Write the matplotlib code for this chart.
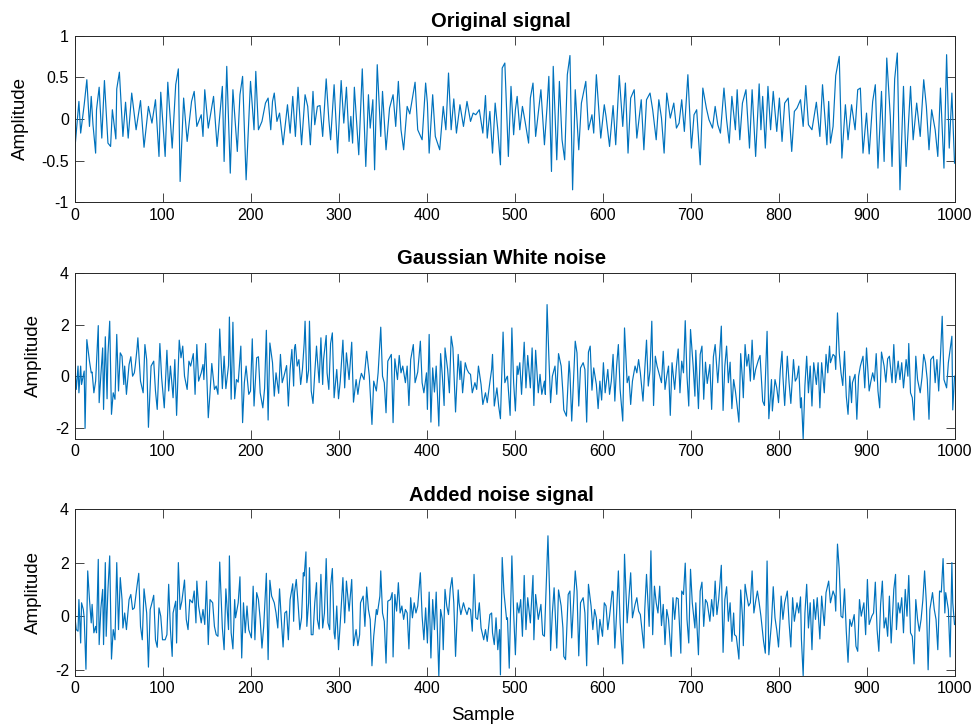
import numpy as np
import matplotlib
matplotlib.use("Agg")
import matplotlib.pyplot as plt

plt.rcParams['font.family'] = ['Liberation Sans', 'DejaVu Sans']
plt.rcParams['axes.unicode_minus'] = False

# (sample, amplitude) turning points
original = [(0,-0.41),(5,0.21),(7,-0.17),(11,0.17),(14,0.47),(17,-0.09),(19,0.27),(21,-0.07),(24,-0.41),(25,0.11),(28,0.38),(31,-0.23),(34,0.46),(38,-0.29),(41,-0.33),(43,0.11),(47,-0.24),(48,0.36),(51,0.56),(55,-0.21),(58,0.2),(61,-0.23),(65,0.31),(70,-0.13),(75,0.22),(79,-0.34),(84,0.15),(88,-0.05),(92,0.23),(96,-0.45),(98,0.32),(103,-0.45),(106,0.44),(111,-0.35),(115,0.41),(118,0.6),(120,-0.75),(124,0.25),(128,-0.27),(133,0.21),(136,0.33),(139,-0.09),(144,0.05),(146,-0.21),(148,0.35),(152,-0.11),(158,0.27),(162,-0.33),(168,0.39),(170,-0.51),(173,0.63),(177,-0.65),(180,0.35),(185,-0.39),(188,0.29),(191,0.51),(195,-0.73),(200,0.45),(204,-0.13),(206,0.57),(209,-0.13),(213,-0.03),(217,0.19),(220,0.25),(223,-0.13),(225,0.21),(227,0.31),(230,-0.03),(233,0.07),(237,-0.31),(242,0.17),(245,-0.17),(248,0.27),(251,-0.21),(254,0.38),(258,-0.31),(262,0.29),(265,0.15),(268,-0.31),(271,0.33),(273,-0.07),(276,0.15),(279,0.16),(282,-0.21),(286,0.48),(289,-0.01),(291,-0.25),(295,0.41),(299,-0.41),(303,0.46),(306,-0.05),(309,0.38),(312,-0.27),(314,0.03),(316,-0.29),(318,0.38),(323,-0.43),(327,0.6),(331,-0.57),(334,0.29),(336,-0.11),(339,0.23),(341,-0.61),(344,0.65),(348,-0.21),(350,0.33),(354,-0.37),(358,0.13),(362,0.29),(365,-0.09),(368,0.45),(371,-0.13),(374,-0.37),(378,0.15),(381,0.06),(387,0.44),(390,-0.13),(395,-0.25),(399,0.43),(401,0.19),(403,-0.41),(407,0.29),(410,-0.21),(415,-0.37),(419,0.15),(422,-0.13),(425,0.55),(428,-0.13),(431,0.24),(434,-0.17),(438,0.17),(442,-0.09),(446,0.21),(450,-0.03),(453,0.07),(456,0.05),(460,0.11),(464,-0.17),(467,0.28),(469,-0.23),(472,0.09),(475,-0.41),(478,0.19),(481,-0.13),(484,-0.55),(486,0.61),(489,0.67),(493,-0.45),(496,0.39),(499,-0.19),(501,0.11),(503,0.27),(506,-0.13),(509,0.15),(512,-0.03),(516,-0.29),(518,0.25),(521,0.43),(524,-0.21),(527,0.07),(530,0.35),(534,-0.31),(537,0.15),(539,0.51),(542,-0.63),(544,0.63),(548,-0.49),(551,0.45),(554,-0.25),(557,-0.49),(560,0.53),(563,0.76),(566,-0.85),(569,0.35),(573,-0.37),(576,0.19),(581,0.45),(584,-0.13),(588,0.05),(590,-0.17),(593,0.53),(598,-0.23),(602,0.17),(604,0.03),(608,-0.33),(612,0.16),(615,-0.31),(619,0.52),(623,-0.09),(626,0.43),(629,-0.41),(632,0.25),(636,0.35),(639,-0.23),(644,0.23),(647,-0.37),(650,0.23),(654,0.31),(657,0.11),(661,-0.25),(664,0.23),(667,0.01),(670,-0.41),(673,0.31),(677,0.01),(681,0.19),(684,-0.11),(687,-0.05),(690,0.23),(693,-0.15),(697,0.53),(701,-0.35),(704,0.05),(707,0.11),(711,-0.55),(714,0.37),(718,0.13),(721,-0.01),(725,-0.11),(728,0.15),(731,-0.07),(734,-0.17),(738,0.37),(741,-0.01),(744,-0.29),(747,0.27),(751,-0.13),(753,0.35),(756,-0.25),(759,0.19),(763,0.35),(767,-0.35),(770,0.35),(774,-0.45),(778,0.42),(780,-0.13),(782,0.27),(785,-0.35),(788,0.39),(791,-0.13),(794,0.33),(798,-0.15),(801,0.25),(804,-0.27),(807,0.19),(811,0.25),(815,-0.39),(818,0.09),(821,0.13),(825,0.23),(828,-0.09),(831,0.4),(834,-0.07),(838,-0.13),(843,0.2),(847,-0.21),(850,0.41),(855,-0.31),(857,0.21),(859,-0.29),(862,-0.09),(865,0.52),(869,0.75),(872,-0.47),(876,0.17),(879,-0.25),(883,0.17),(887,-0.13),(890,0.35),(893,0.37),(896,-0.41),(900,0.07),(903,-0.42),(907,0.21),(910,0.41),(913,-0.59),(917,0.33),(920,-0.51),(923,0.73),(927,0.03),(929,-0.57),(932,0.48),(935,0.79),(938,-0.85),(942,0.39),(945,-0.57),(950,0.39),(953,-0.25),(957,0.19),(961,-0.21),(965,0.47),(968,0.15),(971,-0.37),(974,0.11),(978,-0.13),(981,-0.45),(984,0.37),(988,-0.59),(991,0.77),(994,-0.35),(997,0.31),(1000,-0.53)]

noise = [(0,0.53),(2,-0.5),(4,0.4),(5,-0.63),(7,0.4),(8,-0.31),(11,0.21),(12,-2.0),(14,1.42),(17,0.59),(19,0.14),(20,0.17),(22,-0.63),(24,-0.18),(27,1.96),(28,-1.01),(30,0.08),(32,1.1),(33,-1.27),(35,1.53),(37,-0.86),(38,0.85),(40,2.13),(42,-1.46),(44,-0.63),(46,-0.88),(48,1.62),(50,-0.56),(52,0.91),(54,0.78),(56,-0.31),(57,0.4),(59,-0.69),(62,0.46),(64,0.76),(66,0.01),(68,0.14),(69,0.4),(71,1.06),(72,1.49),(75,-0.18),(78,-0.63),(80,1.23),(82,0.65),(84,-1.96),(87,0.4),(90,0.59),(92,-0.56),(94,-1.27),(97,1.27),(99,-0.05),(102,-1.21),(105,1.01),(107,-0.56),(109,0.4),(112,-0.82),(114,0.65),(116,-1.5),(119,1.4),(121,0.72),(123,1.17),(125,0.01),(128,-0.5),(130,0.59),(132,0.4),(135,0.88),(137,-0.69),(139,1.23),(141,-0.18),(144,0.14),(146,0.46),(147,-0.12),(149,1.27),(152,-1.59),(154,-0.63),(156,0.5),(159,-0.5),(161,-0.37),(163,-0.69),(165,1.83),(168,-0.47),(170,0.78),(172,-0.47),(175,0.42),(176,2.29),(178,-0.88),(180,2.09),(182,-0.86),(184,-0.12),(186,-0.22),(189,1.17),(191,-1.78),(193,-0.24),(195,0.4),(198,-0.69),(200,-0.56),(202,1.45),(204,-1.14),(207,0.72),(209,0.76),(211,-0.63),(214,-1.21),(216,-0.46),(218,1.78),(220,-1.68),(222,1.29),(225,0.53),(227,-0.76),(229,0.14),(232,-0.65),(234,0.85),(236,-0.24),(238,0.01),(241,0.42),(243,-1.14),(245,0.27),(247,1.04),(249,-0.37),(250,1.1),(251,1.23),(253,0.4),(255,0.65),(257,-0.31),(259,0.27),(261,1.29),(262,2.13),(264,-0.24),(266,0.24),(267,2.13),(269,-0.56),(271,-1.04),(273,0.14),(275,1.17),(276,0.65),(278,-0.24),(280,1.49),(282,-0.31),(283,0.65),(286,1.58),(287,0.14),(289,-0.5),(291,1.27),(293,1.68),(295,-0.82),(298,0.27),(300,-0.86),(302,-0.18),(305,1.4),(307,-0.44),(309,0.91),(312,-0.12),(315,1.32),(317,-0.99),(320,-0.12),(322,-0.69),(324,-0.18),(326,0.12),(329,-0.12),(332,0.97),(335,0.01),(338,-1.85),(340,-0.18),(343,-0.56),(345,0.14),(348,1.9),(350,0.01),(352,-0.24),(354,-1.4),(356,0.59),(359,0.78),(360,0.85),(362,-1.78),(364,0.68),(367,-0.12),(369,0.81),(371,0.14),(373,0.4),(376,-0.24),(378,0.4),(380,-1.12),(382,0.65),(385,1.23),(387,-0.24),(390,0.17),(393,1.36),(395,-0.24),(397,-0.63),(400,0.14),(401,-1.27),(403,1.62),(405,-1.76),(407,0.33),(409,-0.6),(411,0.4),(414,-1.91),(416,0.88),(418,0.01),(420,-1.12),(421,1.1),(424,0.27),(426,-0.63),(428,1.55),(430,1.1),(433,-1.37),(436,0.85),(438,-0.12),(439,0.59),(441,-0.63),(444,0.53),(446,0.27),(448,0.14),(450,0.08),(452,-0.63),(455,-0.24),(457,-0.5),(459,0.4),(462,-0.31),(464,-1.08),(467,-0.63),(469,-1.01),(472,-0.22),(474,0.27),(475,0.85),(477,-1.14),(480,-0.44),(482,-1.14),(484,-1.63),(487,1.71),(489,-0.24),(491,-0.05),(492,0.01),(495,-1.5),(497,1.87),(499,-0.24),(501,-1.33),(503,0.4),(504,0.08),(506,0.53),(508,-0.69),(511,1.32),(513,-0.44),(515,0.81),(518,-0.44),(520,1.1),(522,-1.12),(524,1.01),(527,-0.63),(529,0.08),(531,-0.69),(534,-0.18),(535,-0.69),(537,2.77),(539,0.78),(541,-1.01),(543,0.01),(546,0.4),(548,-0.69),(550,0.88),(553,0.4),(555,-0.63),(556,-1.29),(559,-1.53),(562,0.59),(563,0.12),(565,-1.72),(569,1.36),(571,0.91),(573,-1.14),(575,0.33),(578,0.53),(580,0.27),(582,-1.76),(584,0.94),(586,1.17),(588,-0.53),(590,0.33),(593,-0.31),(595,-1.24),(597,-0.18),(599,-0.91),(601,0.53),(603,-0.63),(606,0.27),(608,-0.69),(610,-0.18),(612,0.85),(614,-0.95),(616,0.4),(618,1.23),(620,-0.5),(623,-1.72),(625,1.87),(628,-0.24),(630,0.01),(632,-1.08),(634,-0.18),(637,0.4),(639,0.14),(641,0.65),(643,0.14),(646,-0.95),(648,0.27),(650,1.4),(652,-0.37),(654,0.24),(656,2.13),(658,-1.12),(660,0.78),(662,0.4),(665,0.01),(667,-0.24),(669,0.97),(671,-0.5),(673,0.01),(675,0.4),(677,-1.5),(679,0.53),(682,-0.5),(684,0.4),(686,1.06),(688,-0.63),(690,0.59),(692,0.14),(694,2.15),(696,0.01),(698,-1.14),(700,1.81),(703,0.4),(705,-0.76),(706,1.01),(709,-1.24),(711,0.85),(713,1.17),(715,-0.88),(717,0.55),(719,-0.27),(722,0.46),(724,-1.27),(726,0.76),(728,1.23),(731,-0.24),(733,0.78),(735,1.94),(737,-1.31),(739,0.4),(741,1.17),(743,-0.24),(745,0.55),(747,-1.24),(749,-0.12),(751,-0.56),(753,-1.14),(755,-1.76),(757,0.88),(759,-0.12),(760,-0.82),(762,1.23),(764,0.4),(766,0.85),(768,-0.18),(770,1.4),(772,-0.12),(774,0.27),(777,0.62),(779,0.81),(782,-0.95),(784,-1.12),(787,1.74),(789,-1.63),(792,-0.12),(793,-1.33),(796,-0.12),(798,-0.44),(800,-1.01),(802,0.24),(804,0.97),(805,0.01),(807,-1.12),(810,0.78),(812,-0.24),(814,-1.04),(817,0.65),(819,-0.18),(821,-0.05),(823,0.4),(825,-1.21),(826,-0.82),(828,-2.4),(830,-0.35),(832,0.78),(834,-0.63),(836,0.4),(838,-1.14),(840,0.53),(843,-0.31),(845,0.53),(847,-1.21),(849,0.53),(852,-0.63),(854,0.85),(856,0.14),(858,1.17),(859,0.53),(862,0.85),(864,0.78),(865,0.27),(867,2.45),(869,0.91),(871,0.14),(873,-0.35),(875,0.97),(877,-0.76),(879,-1.46),(881,0.01),(883,-1.01),(884,-0.24),(887,0.08),(889,-1.65),(891,0.01),(893,0.4),(896,0.78),(898,-0.44),(900,1.1),(903,-0.56),(905,-0.18),(907,0.14),(909,-0.18),(911,0.88),(913,-0.56),(915,-1.21),(917,0.94),(920,0.4),(922,-0.22),(924,0.68),(926,0.78),(929,-0.24),(931,1.23),(933,-0.24),(936,0.59),(938,-0.12),(940,0.53),(942,-0.44),(945,0.65),(947,0.01),(948,1.27),(950,-0.63),(952,-0.82),(954,-1.68),(956,0.78),(958,-0.12),(961,-0.63),(963,-0.05),(965,0.85),(967,0.53),(969,-0.12),(971,-1.65),(973,0.65),(976,0.78),(978,-0.24),(980,0.65),(982,-0.56),(984,0.76),(986,2.32),(988,-0.12),(991,-0.44),(993,0.53),(995,1.04),(997,1.55),(998,-1.29),(1000,0.01)]

noisy = [(0,0.12),(2,-0.5),(4,-0.56),(5,0.62),(7,-1.0),(8,0.5),(10,0.25),(11,-0.06),(13,-1.98),(15,1.69),(17,0.62),(19,-0.25),(20,0.44),(22,-0.62),(24,-0.38),(25,-0.62),(27,2.12),(28,-1.06),(30,0.31),(32,1.0),(33,-1.06),(35,2.0),(36,-0.75),(38,1.0),(40,2.25),(42,-1.6),(44,-0.5),(46,-0.88),(48,2.0),(50,-0.5),(52,1.44),(54,0.62),(55,-0.44),(57,0.12),(59,-0.5),(62,0.62),(64,0.81),(66,0.25),(68,0.31),(71,1.12),(73,1.6),(75,-0.38),(77,-0.88),(79,1.02),(82,0.12),(84,-1.9),(86,0.25),(88,0.5),(90,0.78),(92,-0.88),(94,-1.16),(96,0.31),(98,0.0),(100,-0.88),(103,-0.88),(105,-0.69),(107,1.19),(109,-0.5),(111,-1.5),(112,0.12),(115,0.56),(116,-1.0),(118,2.0),(120,0.25),(122,0.56),(125,1.35),(127,-0.12),(129,-0.5),(131,0.62),(134,0.5),(136,0.94),(138,-0.25),(139,1.31),(141,0.38),(144,-0.25),(146,0.25),(148,-0.31),(150,1.31),(152,-1.06),(154,0.62),(157,0.5),(159,-0.38),(161,-0.69),(163,-0.75),(165,2.02),(168,-0.44),(170,-1.25),(172,1.02),(175,-0.5),(176,2.25),(178,-0.62),(180,-1.22),(182,0.62),(183,-0.06),(186,0.5),(188,1.47),(190,-1.56),(192,0.5),(194,-0.62),(196,0.38),(198,-0.5),(201,-0.81),(203,1.12),(205,-0.88),(207,0.88),(209,0.62),(211,-0.12),(213,-1.19),(215,-0.38),(218,1.6),(220,-1.62),(222,1.34),(224,0.75),(227,0.5),(229,0.12),(231,-0.44),(233,1.02),(235,-0.12),(237,-1.15),(239,0.12),(241,0.19),(243,-0.88),(245,0.62),(248,1.21),(249,-0.19),(250,0.88),(252,1.37),(254,0.5),(256,-0.5),(258,-0.06),(260,1.62),(261,1.5),(263,2.4),(264,-0.38),(266,0.5),(267,1.81),(269,-0.69),(271,-0.69),(273,0.5),(275,1.25),(276,-0.12),(278,-0.48),(280,1.56),(282,-0.44),(284,0.12),(286,2.15),(288,-0.25),(290,-0.5),(291,1.12),(293,1.78),(295,-0.62),(296,-0.85),(298,0.38),(300,-1.25),(302,-0.25),(305,1.44),(307,-0.25),(309,1.31),(312,0.19),(315,1.37),(317,-1.1),(320,-0.5),(322,-1.1),(324,-0.69),(325,0.5),(328,0.75),(330,-0.38),(332,1.09),(334,0.25),(336,-0.12),(338,-1.85),(340,-0.75),(343,0.25),(344,0.06),(347,0.75),(348,1.69),(350,0.12),(352,-0.19),(354,-1.75),(356,0.56),(359,0.62),(361,0.88),(362,-1.52),(364,0.81),(366,0.19),(368,1.25),(370,0.12),(372,0.38),(374,-0.12),(376,0.25),(378,0.12),(380,-1.22),(382,0.69),(384,-0.06),(386,0.5),(388,0.12),(390,0.38),(393,1.62),(395,0.0),(397,-0.88),(399,0.31),(401,-1.0),(403,0.9),(405,-1.56),(407,0.62),(409,-0.5),(411,0.9),(414,-2.25),(416,0.25),(418,-0.12),(419,-1.25),(421,1.0),(423,0.38),(425,0.06),(427,1.02),(429,1.44),(431,0.5),(433,-1.5),(436,0.98),(437,0.5),(439,0.06),(442,0.5),(444,0.25),(446,0.06),(448,0.31),(450,0.25),(452,-0.56),(454,1.56),(456,-0.06),(458,-0.12),(460,0.5),(462,-0.44),(465,-0.88),(467,-0.5),(469,-0.94),(472,0.06),(474,0.12),(475,-0.62),(477,-1.06),(479,-0.06),(481,-1.25),(483,-0.5),(484,-2.19),(486,2.19),(488,0.88),(491,-0.12),(492,-0.06),(494,-1.94),(497,2.25),(499,0.12),(501,-1.44),(503,0.5),(505,0.12),(507,0.62),(509,-0.75),(511,1.52),(513,-0.5),(515,0.69),(518,-0.25),(521,1.52),(522,-0.88),(524,0.81),(527,-0.12),(530,0.44),(532,-0.69),(534,-0.75),(538,3.0),(540,0.75),(541,-1.28),(543,0.12),(545,1.06),(548,-1.19),(550,0.98),(553,0.38),(555,-0.44),(556,-1.5),(558,-1.62),(561,0.81),(563,0.94),(565,-0.81),(569,1.69),(571,0.94),(573,-1.48),(575,0.5),(578,0.69),(580,0.12),(582,-1.85),(584,1.19),(587,0.38),(589,-0.5),(591,0.25),(593,-0.06),(595,-1.06),(597,-0.12),(600,-0.75),(602,0.5),(604,0.38),(606,-0.5),(608,0.0),(611,0.94),(612,0.9),(614,-1.19),(616,0.12),(618,1.69),(620,-0.25),(623,-1.78),(625,2.31),(628,-0.25),(630,0.69),(632,1.62),(634,-0.06),(637,0.44),(639,0.69),(641,0.19),(643,0.06),(647,-1.19),(648,0.25),(650,1.56),(653,-0.38),(655,2.44),(657,-0.69),(659,1.12),(661,0.5),(663,0.12),(665,1.12),(667,-0.35),(669,0.44),(671,-1.06),(673,0.25),(675,-0.12),(678,-1.5),(680,0.69),(682,-0.12),(684,0.69),(686,0.65),(689,-1.38),(690,0.94),(692,0.81),(694,1.98),(696,-0.12),(698,-1.0),(700,1.75),(702,0.5),(705,-0.44),(706,0.5),(709,-1.44),(711,0.94),(713,1.27),(715,-0.38),(717,0.62),(719,0.5),(722,-0.19),(724,0.62),(726,0.0),(728,1.31),(730,0.06),(732,0.62),(735,1.9),(737,-1.35),(739,0.62),(741,1.1),(743,-0.19),(745,0.5),(747,-0.94),(749,0.12),(750,-0.69),(752,-0.75),(755,-1.6),(757,0.98),(759,0.0),(760,-1.1),(762,1.19),(764,0.75),(766,0.38),(768,0.5),(770,1.69),(772,0.12),(774,0.56),(776,0.94),(778,0.5),(780,0.0),(783,-0.94),(785,-1.38),(787,2.06),(789,-1.44),(792,-0.25),(794,1.1),(796,-0.06),(798,-0.52),(800,-1.15),(802,0.0),(803,0.75),(805,-0.12),(807,0.5),(810,0.94),(812,-0.25),(814,-1.15),(816,0.69),(818,-0.19),(821,0.5),(823,0.12),(825,0.72),(826,-0.85),(828,-2.22),(830,0.12),(832,1.19),(834,-0.44),(836,0.5),(838,-1.25),(840,0.62),(842,-0.12),(844,0.69),(847,-0.85),(849,0.75),(852,-0.35),(854,0.88),(857,1.31),(859,0.5),(862,0.94),(864,0.75),(865,0.19),(867,2.69),(869,1.75),(871,0.0),(873,-0.06),(875,1.02),(877,-0.56),(879,-1.72),(881,-0.12),(883,-0.38),(886,0.06),(888,-1.12),(890,-1.31),(892,0.62),(894,0.0),(897,0.5),(899,-0.69),(901,1.37),(903,-0.31),(906,0.0),(908,0.12),(910,1.27),(912,-0.5),(914,-1.31),(916,0.44),(918,1.31),(920,-0.44),(922,-0.06),(924,-0.75),(926,0.75),(928,-1.0),(931,1.0),(933,1.56),(934,-0.5),(936,0.5),(938,0.12),(940,0.69),(942,-0.62),(944,1.0),(946,0.0),(948,1.52),(950,-0.62),(952,-0.75),(954,-1.78),(956,0.62),(958,-0.12),(960,-0.56),(962,-0.12),(964,0.6),(966,1.69),(968,0.5),(970,-2.0),(972,0.25),(975,0.88),(977,0.25),(979,-0.12),(981,-1.25),(983,0.94),(985,0.9),(987,2.15),(989,0.12),(990,0.88),(993,0.25),(995,-1.52),(997,2.0),(998,0.5),(1000,-0.31)]

titles = ['Original signal', 'Gaussian White noise', 'Added noise signal']
ylims = [(-1, 1), (-2.4, 4), (-2.22, 4)]
yticks = [[-1, -0.5, 0, 0.5, 1], [-2, 0, 2, 4], [-2, 0, 2, 4]]
xticks = list(range(0, 1001, 100))

line_col = '#0072BD'
axis_col = '#262626'

fig = plt.figure(figsize=(9.74, 7.26), dpi=100)
positions = [[0.0765, 0.7213, 0.9035, 0.2298],
             [0.0765, 0.3957, 0.9035, 0.2287],
             [0.0765, 0.0693, 0.9035, 0.2296]]

for i, series in enumerate([original, noise, noisy]):
    ax = fig.add_axes(positions[i])
    arr = np.array(series)
    ax.plot(arr[:, 0], arr[:, 1], color=line_col, lw=0.85)
    ax.set_xlim(0, 1000)
    ax.set_ylim(*ylims[i])
    ax.set_xticks(xticks)
    ax.set_yticks(yticks[i])
    ax.set_yticklabels([('%g' % v) for v in yticks[i]])
    ax.tick_params(direction='in', length=6.3, width=0.6, colors=axis_col,
                   labelcolor='black', labelsize=11.5, top=True, right=True, pad=4)
    for s in ax.spines.values():
        s.set_color(axis_col)
        s.set_linewidth(0.7)
    ax.set_title(titles[i], fontsize=14.5, fontweight='bold', pad=6, x=0.485)
    ax.set_ylabel('Amplitude', fontsize=13.5, labelpad=9)
    if i == 2:
        ax.set_xlabel('Sample', fontsize=13.5)
        ax.xaxis.set_label_coords(0.464, -0.19)

fig.savefig('out.png', dpi=100)
